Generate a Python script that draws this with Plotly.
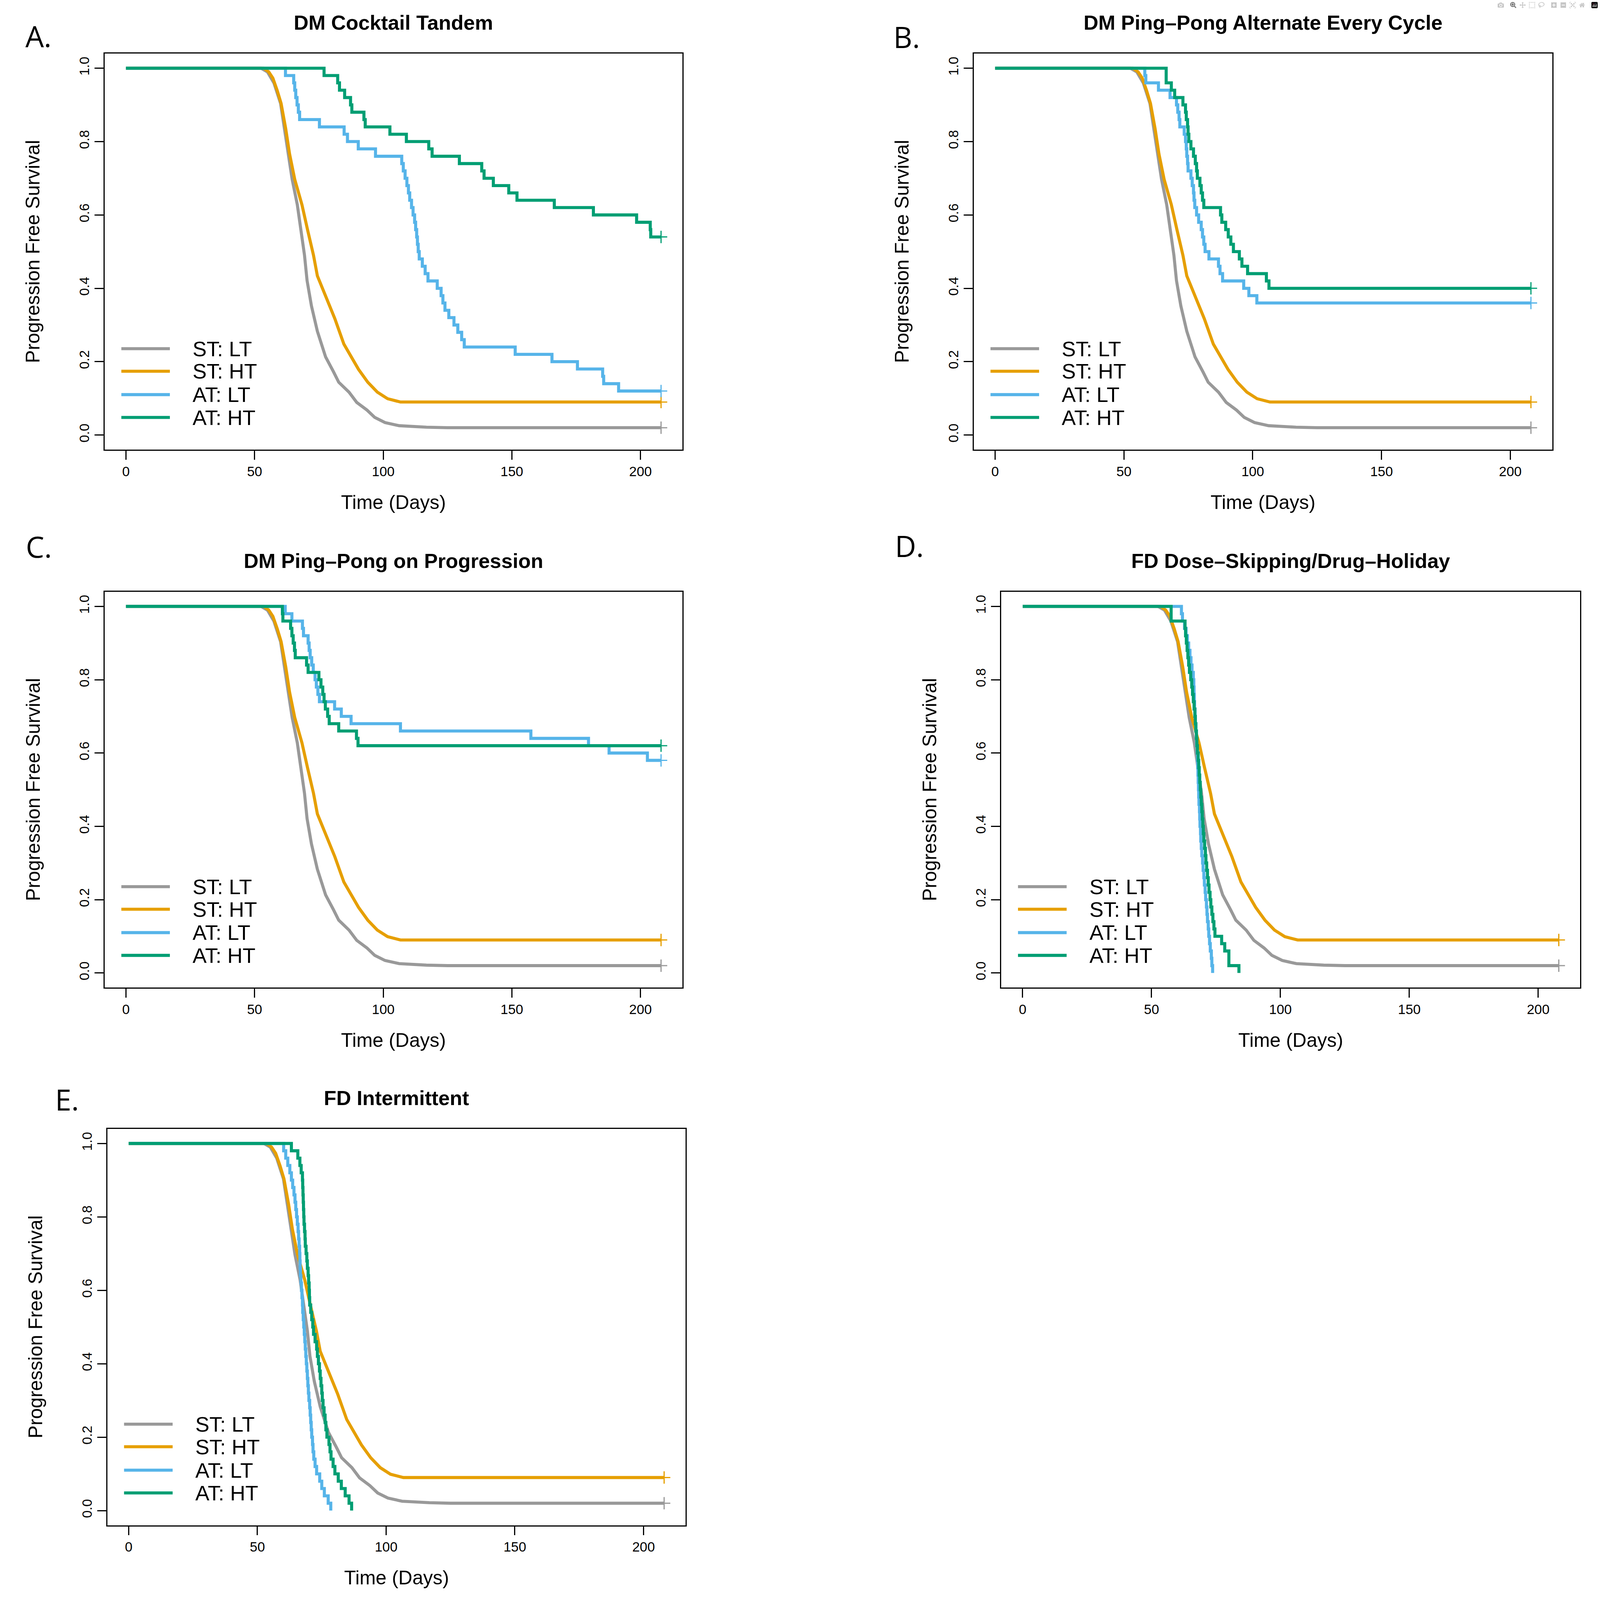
import plotly.graph_objects as go

W, H = 4131, 5351

# ---------------- data ----------------
st_lt_days = [0, 52.5, 55.0, 57.5, 60.1, 61.6, 62.8, 64.6, 66.6, 68.1, 69.4, 70.4, 72.1, 74.4,
              77.6, 80.7, 82.7, 86.7, 89.7, 93.7, 96.7, 100.7, 106.2, 116.8, 125.0, 208.0]
st_lt_surv = [1.0, 1.0, 0.99, 0.96, 0.904, 0.835, 0.766, 0.697, 0.628, 0.559, 0.49, 0.421, 0.352, 0.283,
              0.213, 0.172, 0.144, 0.117, 0.089, 0.068, 0.048, 0.034, 0.0255, 0.0214, 0.02, 0.02]
st_ht_days = [0, 53.5, 55.5, 57.1, 58.8, 60.3, 62.1, 63.6, 65.6, 68.4, 70.6, 72.9, 74.4, 77.2,
              81.2, 84.7, 87.7, 90.4, 94.0, 97.7, 101.7, 106.7, 208.0]
st_ht_surv = [1.0, 1.0, 0.99, 0.973, 0.939, 0.904, 0.835, 0.766, 0.697, 0.628, 0.559, 0.49, 0.434, 0.386,
              0.317, 0.248, 0.213, 0.179, 0.144, 0.117, 0.099, 0.09, 0.09]

END_DAY = 208.0

a_lt_days = [62.0, 65.2, 65.6, 66.0, 66.5, 67.0, 67.5, 75.2, 84.8, 86.1, 90.3, 97.0, 107.2, 107.8, 108.5,
             109.2, 109.8, 110.3, 111.0, 111.6, 112.2, 112.6, 113.0, 113.3, 113.6, 114.0, 115.2, 116.3,
             117.4, 121.0, 122.5, 123.2, 124.0, 125.5, 127.5, 129.0, 130.5, 131.5, 151.3, 165.6, 175.5,
             185.3, 185.7, 191.5]
a_lt_surv = [0.98, 0.96, 0.94, 0.92, 0.90, 0.88, 0.86, 0.84, 0.82, 0.80, 0.78, 0.76, 0.74, 0.72, 0.70,
             0.68, 0.66, 0.64, 0.62, 0.60, 0.58, 0.56, 0.54, 0.52, 0.50, 0.48, 0.46, 0.44,
             0.42, 0.40, 0.38, 0.36, 0.34, 0.32, 0.30, 0.28, 0.26, 0.24, 0.22, 0.20, 0.18,
             0.16, 0.14, 0.12]
a_ht_days = [77.0, 82.3, 83.0, 85.0, 87.3, 87.8, 92.5, 93.0, 102.6, 109.0, 117.7, 119.0, 129.6, 138.3,
             139.2, 142.8, 148.8, 152.0, 166.5, 181.7, 198.5, 203.8, 204.0]
a_ht_surv = [0.98, 0.96, 0.94, 0.92, 0.90, 0.88, 0.86, 0.84, 0.82, 0.80, 0.78, 0.76, 0.74, 0.72,
             0.70, 0.68, 0.66, 0.64, 0.62, 0.60, 0.58, 0.56, 0.54]

b_lt_days = [58.1, 58.5, 63.4, 67.9, 70.4, 70.9, 71.4, 71.7, 73.4, 73.9, 74.2, 74.4, 74.7, 74.9, 76.0,
             76.5, 77.0, 77.2, 77.5, 78.2, 79.0, 80.0, 80.5, 81.0, 81.5, 83.0, 86.7, 87.3, 88.3, 96.5,
             98.5, 101.6]
b_lt_surv = [0.98, 0.96, 0.94, 0.92, 0.90, 0.88, 0.86, 0.84, 0.82, 0.80, 0.78, 0.76, 0.74, 0.72, 0.70,
             0.68, 0.66, 0.64, 0.62, 0.60, 0.58, 0.56, 0.54, 0.52, 0.50, 0.48, 0.46, 0.44, 0.42, 0.40,
             0.38, 0.36]
b_ht_days = [66.4, 66.4, 68.4, 69.7, 72.9, 73.9, 74.2, 74.7, 74.9, 75.2, 76.0, 77.0, 77.7, 78.2, 78.5,
             79.5, 80.0, 80.5, 81.0, 87.5, 88.0, 89.5, 90.5, 91.5, 92.5, 94.8, 95.8, 98.0, 105.3, 106.3]
b_ht_surv = [0.98, 0.96, 0.94, 0.92, 0.90, 0.88, 0.86, 0.84, 0.82, 0.80, 0.78, 0.76, 0.74, 0.72, 0.70,
             0.68, 0.66, 0.64, 0.62, 0.60, 0.58, 0.56, 0.54, 0.52, 0.50, 0.48, 0.46, 0.44, 0.42, 0.40]

c_lt_days = [61.9, 64.5, 68.6, 69.0, 70.8, 71.2, 71.6, 72.2, 72.8, 73.5, 74.0, 74.6, 75.2, 81.1, 83.7,
             87.5, 106.7, 157.4, 179.8, 187.8, 202.7]
c_lt_surv = [0.98, 0.96, 0.94, 0.92, 0.90, 0.88, 0.86, 0.84, 0.82, 0.80, 0.78, 0.76, 0.74, 0.72, 0.70,
             0.68, 0.66, 0.64, 0.62, 0.60, 0.58]
c_ht_days = [60.8, 61.0, 64.0, 64.5, 65.0, 65.5, 65.8, 70.2, 70.8, 75.0, 75.8, 76.5, 77.0, 77.5, 78.4,
             79.0, 82.7, 89.6, 90.2]
c_ht_surv = [0.98, 0.96, 0.94, 0.92, 0.90, 0.88, 0.86, 0.84, 0.82, 0.80, 0.78, 0.76, 0.74, 0.72, 0.70,
             0.68, 0.66, 0.64, 0.62]

d_lt_days = [61.6, 62.0, 62.8, 63.4, 63.9, 64.4, 64.9, 65.3, 65.7, 66.2, 66.4, 66.5, 66.6, 66.7, 66.9,
             67.0, 67.2, 67.4, 67.5, 67.7, 67.8, 67.9, 68.0, 68.1, 68.2, 68.3, 68.4, 68.6, 68.7, 68.8,
             69.0, 69.1, 69.3, 69.5, 69.8, 70.0, 70.3, 70.5, 70.8, 71.0, 71.3, 71.5, 71.7, 72.0, 72.2,
             72.5, 72.8, 73.2, 73.4, 73.7]
d_lt_surv = [0.98, 0.96, 0.94, 0.92, 0.90, 0.88, 0.86, 0.84, 0.82, 0.80, 0.78, 0.76, 0.74, 0.72, 0.70,
             0.68, 0.66, 0.64, 0.62, 0.60, 0.58, 0.56, 0.54, 0.52, 0.50, 0.48, 0.46, 0.44, 0.42, 0.40,
             0.38, 0.36, 0.34, 0.32, 0.30, 0.28, 0.26, 0.24, 0.22, 0.20, 0.18, 0.16, 0.14, 0.12, 0.10,
             0.08, 0.06, 0.04, 0.02, 0.00]
d_ht_days = [57.6, 57.6, 63.0, 63.2, 63.5, 63.8, 64.1, 64.4, 64.7, 65.2, 65.6, 65.9, 66.2, 66.5, 66.8,
             67.0, 67.2, 67.4, 67.6, 67.8, 68.1, 68.3, 68.5, 68.7, 68.9, 69.1, 69.3, 69.5, 69.7, 69.9,
             70.1, 70.3, 70.6, 70.9, 71.1, 71.4, 71.7, 72.0, 72.3, 72.7, 73.0, 73.4, 73.8, 74.2, 74.6,
             77.2, 78.4, 80.0, 80.0, 83.9]
d_ht_surv = [0.98, 0.96, 0.94, 0.92, 0.90, 0.88, 0.86, 0.84, 0.82, 0.80, 0.78, 0.76, 0.74, 0.72, 0.70,
             0.68, 0.66, 0.64, 0.62, 0.60, 0.58, 0.56, 0.54, 0.52, 0.50, 0.48, 0.46, 0.44, 0.42, 0.40,
             0.38, 0.36, 0.34, 0.32, 0.30, 0.28, 0.26, 0.24, 0.22, 0.20, 0.18, 0.16, 0.14, 0.12, 0.10,
             0.08, 0.06, 0.04, 0.02, 0.00]

e_lt_days = [60.2, 61.0, 61.8, 62.6, 63.2, 63.7, 64.2, 64.6, 64.9, 65.2, 65.5, 65.8, 66.0, 66.2, 66.4,
             66.5, 66.6, 66.7, 66.9, 67.1, 67.3, 67.5, 67.6, 67.8, 68.0, 68.2, 68.4, 68.6, 68.8, 69.0,
             69.2, 69.4, 69.6, 69.8, 70.0, 70.3, 70.5, 70.7, 70.9, 71.1, 71.4, 71.6, 71.9, 72.4, 73.0,
             74.2, 75.0, 76.0, 77.5, 78.5]
e_lt_surv = [0.98, 0.96, 0.94, 0.92, 0.90, 0.88, 0.86, 0.84, 0.82, 0.80, 0.78, 0.76, 0.74, 0.72, 0.70,
             0.68, 0.66, 0.64, 0.62, 0.60, 0.58, 0.56, 0.54, 0.52, 0.50, 0.48, 0.46, 0.44, 0.42, 0.40,
             0.38, 0.36, 0.34, 0.32, 0.30, 0.28, 0.26, 0.24, 0.22, 0.20, 0.18, 0.16, 0.14, 0.12, 0.10,
             0.08, 0.06, 0.04, 0.02, 0.00]
e_ht_days = [63.2, 65.7, 66.5, 67.0, 67.5, 67.6, 67.7, 67.8, 67.9, 68.0, 68.1, 68.3, 68.5, 68.6, 68.9,
             69.2, 69.4, 69.7, 69.9, 70.1, 70.2, 70.3, 70.7, 71.1, 71.5, 71.8, 72.4, 73.0, 73.3, 73.7,
             74.1, 74.4, 74.7, 75.0, 75.2, 75.5, 75.9, 76.3, 76.6, 77.0, 77.8, 78.2, 78.6, 79.4, 80.1,
             81.4, 82.6, 84.1, 85.6, 86.6]
e_ht_surv = [0.98, 0.96, 0.94, 0.92, 0.90, 0.88, 0.86, 0.84, 0.82, 0.80, 0.78, 0.76, 0.74, 0.72, 0.70,
             0.68, 0.66, 0.64, 0.62, 0.60, 0.58, 0.56, 0.54, 0.52, 0.50, 0.48, 0.46, 0.44, 0.42, 0.40,
             0.38, 0.36, 0.34, 0.32, 0.30, 0.28, 0.26, 0.24, 0.22, 0.20, 0.18, 0.16, 0.14, 0.12, 0.10,
             0.08, 0.06, 0.04, 0.02, 0.00]

titles = ["DM Cocktail Tandem", "DM Ping\u2013Pong Alternate Every Cycle", "DM Ping\u2013Pong on Progression",
          "FD Dose\u2013Skipping/Drug\u2013Holiday", "FD Intermittent"]
letters = ["A.", "B.", "C.", "D.", "E."]
series_names = ["ST: LT", "ST: HT", "AT: LT", "AT: HT"]
colors = ["#999999", "#E69F00", "#56B4E9", "#009E73"]
x_ticks = [0, 50, 100, 150, 200]
y_ticks = [0.0, 0.2, 0.4, 0.6, 0.8, 1.0]
y_ticktext = ["0.0", "0.2", "0.4", "0.6", "0.8", "1.0"]

at_curves = [
    ((a_lt_days, a_lt_surv), (a_ht_days, a_ht_surv)),
    ((b_lt_days, b_lt_surv), (b_ht_days, b_ht_surv)),
    ((c_lt_days, c_lt_surv), (c_ht_days, c_ht_surv)),
    ((d_lt_days, d_lt_surv), (d_ht_days, d_ht_surv)),
    ((e_lt_days, e_lt_surv), (e_ht_days, e_ht_surv)),
]

# ---------------- layout geometry (pixels of the 4131x5351 page) ----------------
boxes = [  # left, right, top, bottom
    (270, 1762, 179, 1504),
    (2514, 4008, 179, 1504),
    (270, 1762, 1979, 3303),
    (2585, 4080, 1979, 3303),
    (277, 1770, 3775, 5101),
]
letter_pos = [(99, 120), (2341, 123), (100, 1827), (2348, 1825), (173, 3676)]

FONT = "Liberation Sans, Arial, Helvetica, sans-serif"
LW = 9

fig = go.Figure()
annotations = []
shapes = []
layout_axes = {}

for i in range(5):
    n = "" if i == 0 else str(i + 1)
    xa, ya = "x" + n, "y" + n
    (lt_d, lt_s), (ht_d, ht_s) = at_curves[i]

    for d, s, c in [(st_lt_days, st_lt_surv, colors[0]), (st_ht_days, st_ht_surv, colors[1])]:
        fig.add_trace(go.Scatter(x=d, y=s, mode="lines", line=dict(color=c, width=LW),
                                 xaxis=xa, yaxis=ya, showlegend=False, hoverinfo="skip"))
    for d, s, c in [(lt_d, lt_s, colors[2]), (ht_d, ht_s, colors[3])]:
        xs = [0.0] + list(d)
        ys = [1.0] + list(s)
        if s[-1] > 0:
            xs.append(END_DAY)
            ys.append(s[-1])
        fig.add_trace(go.Scatter(x=xs, y=ys, mode="lines", line=dict(color=c, width=LW, shape="hv"),
                                 xaxis=xa, yaxis=ya, showlegend=False, hoverinfo="skip"))
    for d, s, c in [(st_lt_days, st_lt_surv, colors[0]), (st_ht_days, st_ht_surv, colors[1]),
                    (lt_d, lt_s, colors[2]), (ht_d, ht_s, colors[3])]:
        if s[-1] > 0:
            fig.add_trace(go.Scatter(x=[END_DAY], y=[s[-1]], mode="markers",
                                     marker=dict(symbol="cross-thin", size=26,
                                                 line=dict(width=3.5, color=c), color=c),
                                     xaxis=xa, yaxis=ya, showlegend=False, hoverinfo="skip"))

    L, R, T, B = boxes[i]
    bh = B - T
    axis_common = dict(showline=True, linewidth=3.5, linecolor="black", mirror=True,
                       ticks="outside", ticklen=26, tickwidth=3.5, tickcolor="black",
                       showgrid=False, zeroline=False,
                       tickfont=dict(family=FONT, size=40, color="black"),
                       ticklabelstandoff=28)
    layout_axes["xaxis" + n] = dict(axis_common, domain=[L / W, R / W], anchor=ya,
                                    range=[-8.32, 216.32], tickvals=x_ticks,
                                    ticktext=[str(t) for t in x_ticks])
    layout_axes["yaxis" + n] = dict(axis_common, domain=[1 - B / H, 1 - T / H], anchor=xa,
                                    range=[-0.04, 1.04], tickvals=y_ticks, ticktext=y_ticktext,
                                    tickangle=-90)

    xd, yd = xa + " domain", ya + " domain"
    annotations.append(dict(text="<b>" + titles[i] + "</b>", xref=xd, yref=yd, x=0.5,
                            y=1 + 103 / bh, xanchor="center", yanchor="middle", showarrow=False,
                            font=dict(family=FONT, size=60, color="black")))
    annotations.append(dict(text="Time (Days)", xref=xd, yref=yd, x=0.5, y=-176 / bh,
                            xanchor="center", yanchor="middle", showarrow=False,
                            font=dict(family=FONT, size=57, color="black")))
    annotations.append(dict(text="Progression Free Survival", xref=xd, yref=yd, x=-0.124, y=0.5,
                            xanchor="center", yanchor="middle", showarrow=False, textangle=-90,
                            font=dict(family=FONT, size=57, color="black")))
    lx, ly = letter_pos[i]
    annotations.append(dict(text=letters[i], xref="paper", yref="paper", x=lx / W, y=1 - ly / H,
                            xanchor="center", yanchor="middle", showarrow=False,
                            font=dict(family="Open Sans, Noto Sans, sans-serif", size=86, color="black")))
    rows = [0.255, 0.198, 0.139, 0.0815]
    for name, c, ry in zip(series_names, colors, rows):
        shapes.append(dict(type="line", xref=xd, yref=yd, x0=0.029, x1=0.113, y0=ry, y1=ry,
                           line=dict(color=c, width=LW)))
        annotations.append(dict(text=name, xref=xd, yref=yd, x=0.151, y=ry, xanchor="left",
                                yanchor="middle", showarrow=False,
                                font=dict(family=FONT, size=62, color="black")))

fig.update_layout(width=W, height=H, autosize=False, margin=dict(l=0, r=0, t=0, b=0),
                  paper_bgcolor="white", plot_bgcolor="white", showlegend=False,
                  annotations=annotations, shapes=shapes, **layout_axes)

# If the real browser viewport is smaller than the intended page, fit the whole
# figure into it (all positions are relative, so only pixel sizes are rescaled).
fit_js = """
document.documentElement.style.margin='0px';
document.body.style.margin='0px';
document.body.style.overflow='hidden';
var gd = document.getElementById('{plot_id}');
var W0 = %d, H0 = %d;
var w = window.innerWidth, h = window.innerHeight;
if (w > 0 && h > 0 && (Math.abs(w - W0) > 2 || Math.abs(h - H0) > 2)) {
  var f = Math.sqrt((w / W0) * (h / H0));
  var lay = {width: w, height: h};
  Object.keys(gd.layout).forEach(function (k) {
    if (/^[xy]axis[0-9]*$/.test(k)) {
      var a = gd.layout[k];
      lay[k + '.ticklen'] = a.ticklen * f;
      lay[k + '.tickwidth'] = a.tickwidth * f;
      lay[k + '.linewidth'] = a.linewidth * f;
      lay[k + '.ticklabelstandoff'] = a.ticklabelstandoff * f;
      lay[k + '.tickfont.size'] = a.tickfont.size * f;
    }
  });
  (gd.layout.annotations || []).forEach(function (an, i) {
    lay['annotations[' + i + '].font.size'] = an.font.size * f;
  });
  (gd.layout.shapes || []).forEach(function (s, i) {
    lay['shapes[' + i + '].line.width'] = s.line.width * f;
  });
  var lw = [], ms = [], mlw = [];
  gd.data.forEach(function (t) {
    lw.push(t.line && t.line.width ? t.line.width * f : 2);
    ms.push(t.marker && t.marker.size ? t.marker.size * f : 6);
    mlw.push(t.marker && t.marker.line && t.marker.line.width ? t.marker.line.width * f : 0);
  });
  Plotly.update(gd, {'line.width': lw, 'marker.size': ms, 'marker.line.width': mlw}, lay);
}
""" % (W, H)

fig.write_html("out.html", post_script=fit_js)
